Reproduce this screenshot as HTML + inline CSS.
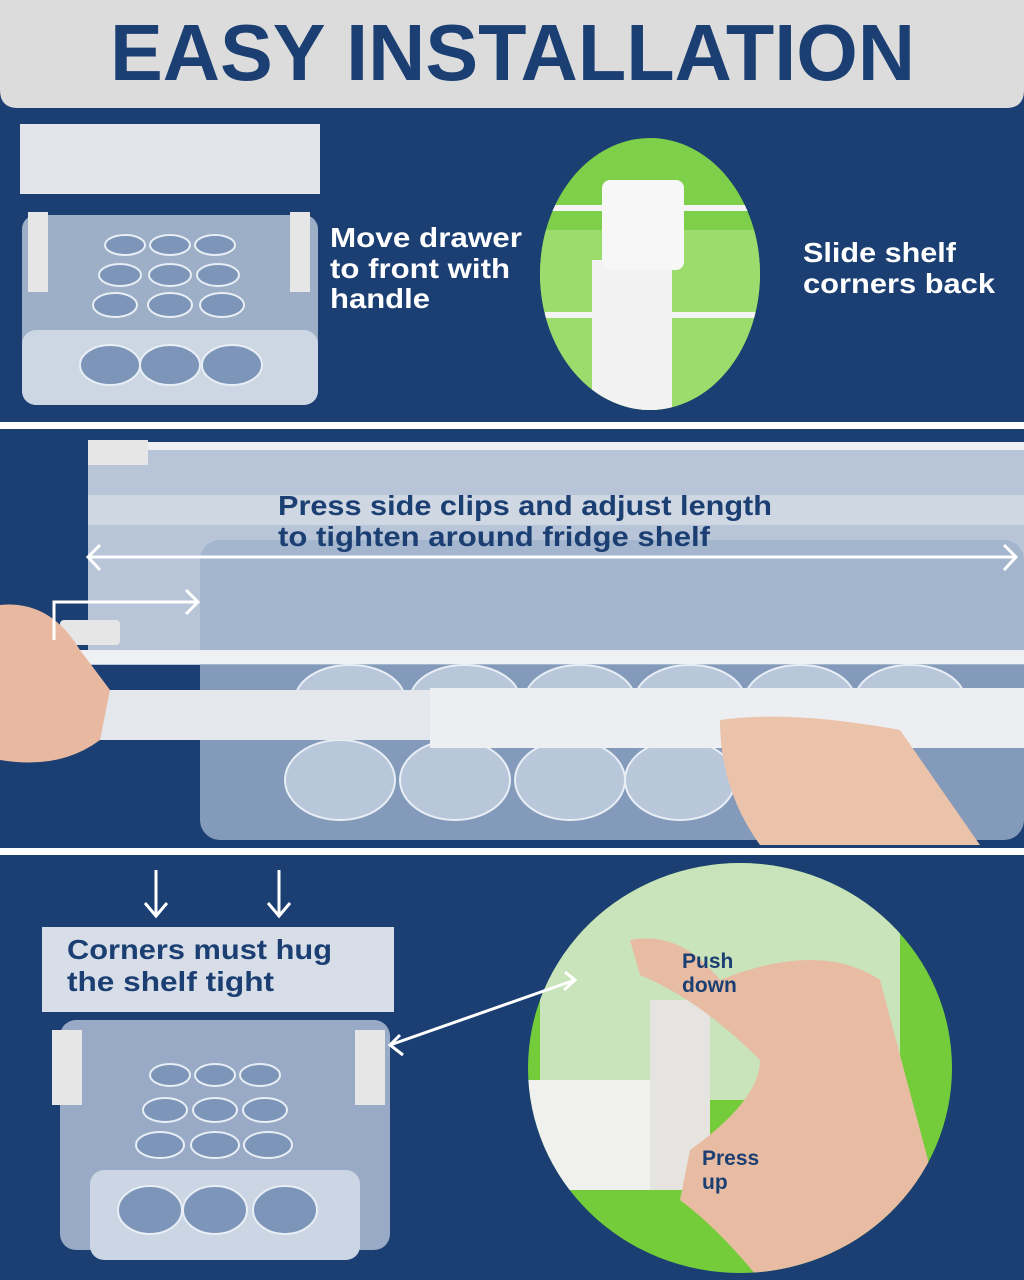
<!DOCTYPE html>
<html><head><meta charset="utf-8"><style>
html,body{margin:0;padding:0;width:1024px;height:1280px;overflow:hidden;background:#1b3f72}
svg{display:block}
text{font-family:"Liberation Sans",sans-serif;font-weight:bold}
</style></head><body>
<svg width="1024" height="1280" viewBox="0 0 1024 1280" xmlns="http://www.w3.org/2000/svg">
<defs>
<clipPath id="c1"><ellipse cx="650" cy="274" rx="110" ry="136"/></clipPath>
<clipPath id="c"><ellipse cx="740" cy="1068" rx="212" ry="205"/></clipPath>
</defs>
<rect width="1024" height="1280" fill="#1b3f72"/>
<!-- header -->
<path d="M0 0H1024V90Q1024 108 1006 108H18Q0 108 0 90Z" fill="#dcdcdc"/>
<text x="110" y="80" font-size="80" fill="#1b3f72" textLength="805" lengthAdjust="spacingAndGlyphs">EASY  INSTALLATION</text>

<!-- panel 1 drawer -->
<rect x="20" y="124" width="300" height="70" fill="#e2e6ec"/>
<rect x="22" y="215" width="296" height="190" rx="14" fill="#b4c2d6" opacity="0.85"/>
<rect x="22" y="330" width="296" height="75" rx="14" fill="#cdd7e4"/>
<rect x="28" y="212" width="20" height="80" fill="#e6e6e6"/>
<rect x="290" y="212" width="20" height="80" fill="#e6e6e6"/>
<g fill="#7d95b8" stroke="#e8eef5" stroke-width="2">
<ellipse cx="125" cy="245" rx="20" ry="10"/><ellipse cx="170" cy="245" rx="20" ry="10"/><ellipse cx="215" cy="245" rx="20" ry="10"/>
<ellipse cx="120" cy="275" rx="21" ry="11"/><ellipse cx="170" cy="275" rx="21" ry="11"/><ellipse cx="218" cy="275" rx="21" ry="11"/>
<ellipse cx="115" cy="305" rx="22" ry="12"/><ellipse cx="170" cy="305" rx="22" ry="12"/><ellipse cx="222" cy="305" rx="22" ry="12"/>
<ellipse cx="110" cy="365" rx="30" ry="20"/><ellipse cx="170" cy="365" rx="30" ry="20"/><ellipse cx="232" cy="365" rx="30" ry="20"/>
</g>
<g font-size="28" fill="#fff">
<text x="330" y="247" textLength="192" lengthAdjust="spacingAndGlyphs">Move drawer</text>
<text x="330" y="278" textLength="180" lengthAdjust="spacingAndGlyphs">to front with</text>
<text x="330" y="308" textLength="100" lengthAdjust="spacingAndGlyphs">handle</text>
<text x="803" y="262" textLength="153" lengthAdjust="spacingAndGlyphs">Slide shelf</text>
<text x="803" y="293" textLength="192" lengthAdjust="spacingAndGlyphs">corners back</text>
</g>
<ellipse cx="650" cy="274" rx="110" ry="136" fill="#7ed04a"/>
<g clip-path="url(#c1)">
<rect x="540" y="230" width="220" height="180" fill="#9cdc6c"/>
<rect x="545" y="205" width="215" height="6" fill="#f4f4f4"/>
<rect x="545" y="312" width="215" height="6" fill="#f4f4f4"/>
<rect x="592" y="260" width="80" height="150" fill="#f2f2f2"/>
<rect x="602" y="180" width="82" height="90" rx="8" fill="#f7f7f7"/>
</g>

<rect x="0" y="422" width="1024" height="7" fill="#fff"/>

<!-- panel 2 -->
<rect x="88" y="445" width="936" height="220" fill="#b8c5d8"/>
<rect x="88" y="442" width="936" height="8" fill="#eef0f3"/>
<rect x="88" y="495" width="936" height="30" fill="#cfd7e3"/>
<rect x="200" y="540" width="824" height="300" rx="20" fill="#9fb2cc" opacity="0.8"/>
<g fill="#b9c7da" stroke="#e8eef5" stroke-width="2">
<ellipse cx="350" cy="700" rx="55" ry="35"/><ellipse cx="465" cy="700" rx="55" ry="35"/><ellipse cx="580" cy="700" rx="55" ry="35"/><ellipse cx="690" cy="700" rx="55" ry="35"/><ellipse cx="800" cy="700" rx="55" ry="35"/><ellipse cx="910" cy="700" rx="55" ry="35"/>
<ellipse cx="340" cy="780" rx="55" ry="40"/><ellipse cx="455" cy="780" rx="55" ry="40"/><ellipse cx="570" cy="780" rx="55" ry="40"/><ellipse cx="680" cy="780" rx="55" ry="40"/>
</g>
<rect x="60" y="650" width="964" height="14" fill="#eef0f3"/>
<rect x="60" y="690" width="964" height="50" fill="#e4e7ec"/>
<rect x="430" y="688" width="594" height="60" fill="#eceef1"/>
<rect x="60" y="620" width="60" height="25" rx="4" fill="#e6e6e6"/>
<rect x="88" y="440" width="60" height="25" fill="#e6e6e6"/>
<path d="M0 605 Q50 600 80 650 L110 690 L100 740 Q60 770 0 760Z" fill="#e8b9a0"/>
<path d="M720 720 Q790 710 900 730 L980 845 L760 845 Q720 790 720 720Z" fill="#ebc2aa"/>
<path d="M88 557H1016" stroke="#fff" stroke-width="3"/>
<path d="M100 545L88 557L100 570M1004 545L1016 557L1004 570" stroke="#fff" stroke-width="3" fill="none"/>
<path d="M54 640V602H198M186 590L198 602L186 614" stroke="#fff" stroke-width="3" fill="none"/>
<g font-size="28" fill="#1b3f72">
<text x="278" y="515" textLength="494" lengthAdjust="spacingAndGlyphs">Press side clips and adjust length</text>
<text x="278" y="546" textLength="432" lengthAdjust="spacingAndGlyphs">to tighten around fridge shelf</text>
</g>

<rect x="0" y="848" width="1024" height="7" fill="#fff"/>

<!-- panel 3 -->
<rect x="42" y="927" width="352" height="85" fill="#d8dee8"/>
<rect x="60" y="1020" width="330" height="230" rx="16" fill="#aebdd3" opacity="0.85"/>
<rect x="90" y="1170" width="270" height="90" rx="14" fill="#cbd5e3"/>
<rect x="52" y="1030" width="30" height="75" fill="#e6e6e6"/>
<rect x="355" y="1030" width="30" height="75" fill="#e6e6e6"/>
<g fill="#7d95b8" stroke="#e8eef5" stroke-width="2">
<ellipse cx="170" cy="1075" rx="20" ry="11"/><ellipse cx="215" cy="1075" rx="20" ry="11"/><ellipse cx="260" cy="1075" rx="20" ry="11"/>
<ellipse cx="165" cy="1110" rx="22" ry="12"/><ellipse cx="215" cy="1110" rx="22" ry="12"/><ellipse cx="265" cy="1110" rx="22" ry="12"/>
<ellipse cx="160" cy="1145" rx="24" ry="13"/><ellipse cx="215" cy="1145" rx="24" ry="13"/><ellipse cx="268" cy="1145" rx="24" ry="13"/>
<ellipse cx="150" cy="1210" rx="32" ry="24"/><ellipse cx="215" cy="1210" rx="32" ry="24"/><ellipse cx="285" cy="1210" rx="32" ry="24"/>
</g>
<path d="M156 870V915M145 903L156 916L167 903M279 870V915M268 903L279 916L290 903" stroke="#fff" stroke-width="3" fill="none"/>
<g font-size="28" fill="#1b3f72">
<text x="67" y="959" textLength="265" lengthAdjust="spacingAndGlyphs">Corners must hug</text>
<text x="67" y="991" textLength="207" lengthAdjust="spacingAndGlyphs">the shelf tight</text>
</g>
<ellipse cx="740" cy="1068" rx="212" ry="205" fill="#74cc3a"/>
<g clip-path="url(#c)">
<path d="M540 860 H900 V1100 H540Z" fill="#dfe8dc" opacity="0.8"/>
<rect x="520" y="1080" width="190" height="110" fill="#f0f0ee"/>
<rect x="650" y="1000" width="60" height="190" fill="#e6e4e0"/>
<path d="M630 940 Q680 930 720 980 Q820 940 880 980 L960 1280 L760 1280 Q720 1230 680 1200 L690 1150 Q760 1100 760 1060 Q700 1000 640 975Z" fill="#e8bca3"/>
</g>
<path d="M390 1045L575 980M400 1035L390 1045L403 1055M565 972L575 980L564 990" stroke="#fff" stroke-width="3" fill="none"/>
<g font-size="21" fill="#1b3f72">
<text x="682" y="968">Push</text><text x="682" y="992">down</text>
<text x="702" y="1165">Press</text><text x="702" y="1189">up</text>
</g>
</svg>
</body></html>
